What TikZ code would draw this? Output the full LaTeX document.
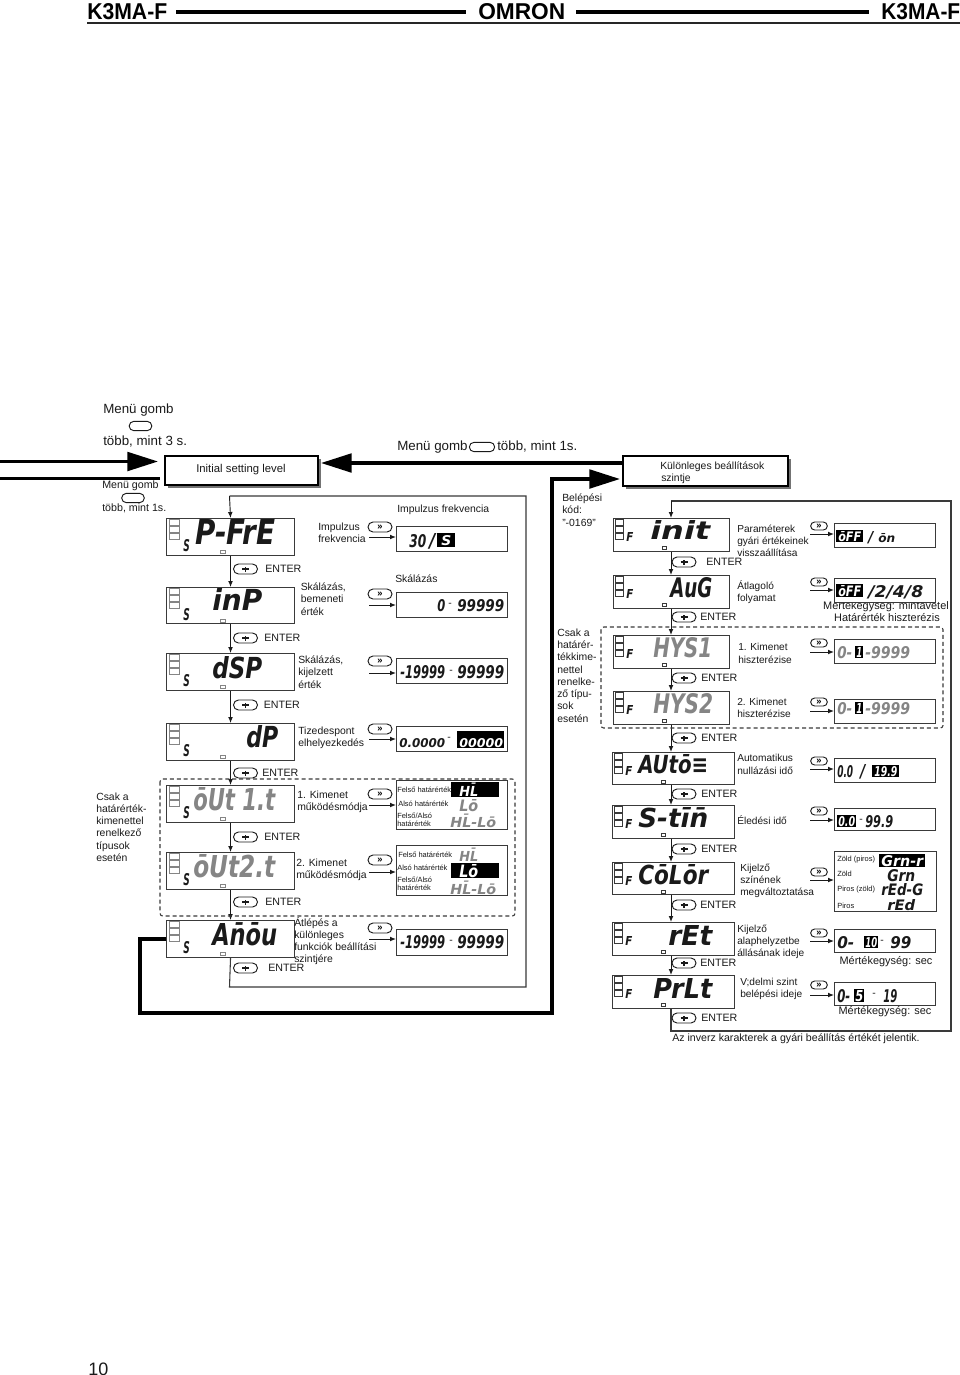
\documentclass[tikz,border=0pt]{standalone}
\usepackage{fontspec}
\usepackage{graphicx}
\setmainfont{Liberation Sans}
\newfontfamily\segf{DejaVu Sans}
\usetikzlibrary{arrows.meta,shapes.misc}
\newlength\pxu \setlength\pxu{0.75pt}
\newcounter{nn}
\definecolor{ink}{HTML}{1A1A1A}
\definecolor{dim}{HTML}{858585}
\definecolor{edge}{HTML}{3A3A3A}
\tikzset{
  lbl/.style={inner sep=0pt,anchor=west,align=left,text=ink,font=\fontsize{7.8}{9.2}\selectfont},
  tiny/.style={lbl,font=\fontsize{5.6}{5.9}\selectfont},
  big/.style={lbl,font=\fontsize{10}{12}\selectfont},
  mid/.style={lbl,font=\fontsize{8}{9.5}\selectfont},
  rgt/.style={lbl,font=\fontsize{7.6}{9.2}\selectfont},
  unit/.style={lbl,font=\fontsize{8.2}{9.5}\selectfont},
  note/.style={lbl,font=\fontsize{7.95}{9.2}\selectfont},
  pageno/.style={lbl,font=\fontsize{13.5}{14}\selectfont},
  arr/.style={draw=ink,line width=.7pt,-{Latex[length=4.5pt,width=3.6pt]}},
  frame/.style={draw=edge,line width=.8pt},
  thickarr/.style={draw=black,line width=2.4pt,-{Triangle[length=23pt,width=14pt]}},
  thickln/.style={draw=black,line width=2.4pt},
  dashbox/.style={draw=edge,line width=.8pt,dash pattern=on 3pt off 2.2pt,rounded corners=2pt},
  level/.style={draw=black,fill=white,line width=1.6pt,inner sep=0pt},
  valbox/.style={draw=edge,line width=.8pt,inner sep=0pt,anchor=north west,fill=white},
  dispbox/.style={draw=edge,line width=.8pt,inner sep=0pt,anchor=north west},
  ovalbtn/.style={rounded rectangle,draw=ink,line width=.7pt,inner sep=0pt,minimum width=18pt,minimum height=7.5pt},
  ffbtn/.style={ovalbtn,font=\bfseries\fontsize{7}{7}\selectfont}
}
% generic fitted text: name, x, y, w, h, colour, content
\newcommand{\fittext}[7]{\node[inner sep=0pt,anchor=north west,text=#6] (#1) at (#2,#3) {\resizebox{#4\pxu}{#5\pxu}{#7}};}
\newcommand{\seg}[6]{\stepcounter{nn}\fittext{s\thenn}{#1}{#2}{#3}{#4}{#5}{\segf\bfseries\itshape #6}}
\newcommand{\inv}[5]{\fill[black] (#1,#2) rectangle ++(#3,#4);}
\newcommand{\lab}[4][lbl]{\stepcounter{nn}\node[#1] (t\thenn) at (#2,#3) {#4};}
\newcommand{\ctr}[4][lbl]{\stepcounter{nn}\node[#1,anchor=center,align=center] (t\thenn) at (#2,#3) {#4};}
% left display: name,x,y,w,h,text x,y,w,h,colour,text
\newcommand{\dispL}[6]{%
  \node[dispbox,minimum width=#4\pxu,minimum height=#5\pxu] (#1) at (#2,#3) {};
  \foreach \k in {1,8,15}{\draw[dim,line width=.6pt] (#2+3.5,#3+\k) rectangle ++(9.5,6.5);}
  \seg{#2+17}{#3+21}{6.5}{12}{ink}{S}
  \draw[dim,line width=.6pt] (#2+54,#3+32) rectangle ++(5,3.5);
}
\newcommand{\dispR}[6]{%
  \node[dispbox,minimum width=#4\pxu,minimum height=#5\pxu] (#1) at (#2,#3) {};
  \foreach \k in {1,8,15}{\draw[edge,line width=.6pt] (#2+2,#3+\k) rectangle ++(8,6);}
  \seg{#2+13}{#3+14}{7}{9}{ink}{F}
  \draw[edge,line width=.6pt] (#2+49,#3+28) rectangle ++(4,3);
}
\newcommand{\entbtn}[4]{% name, x, y, text x
  \node[ovalbtn] (#1) at (#2,#3) {};
  \draw[ink,line width=.9pt] (#2-3.5,#3) -- (#2+3.5,#3) (#2,#3-2) -- (#2,#3+2.5);
  \node[mid] (#1t) at (#4,#3) {ENTER};
}
\begin{document}
\begin{tikzpicture}[x=0.75pt,y=-0.75pt]
\useasboundingbox (0,0) rectangle (960,1375);
\fill[white] (0,0) rectangle (960,1375);
% ---------- header
\fittext{hl}{87}{3}{80}{16}{black}{\bfseries K3MA-F}
\fittext{hr}{881}{3}{79}{16}{black}{\bfseries K3MA-F}
\fittext{logo}{478}{3}{87}{16}{black}{\bfseries OMRON}
\fill[black] (176,10) rectangle (466,14);
\fill[black] (576,10) rectangle (869,14);
\fill[black!85] (87,21.5) rectangle (960,23.5);
% ---------- menu texts, left
\lab[big]{103}{410}{Menü gomb}
\node[ovalbtn,minimum width=17pt,minimum height=7pt] (m1) at (140.5,426) {};
\lab[big]{103}{442}{több, mint 3 s.}
\lab[mid]{102}{486}{Menü gomb}
\node[ovalbtn,minimum width=17pt,minimum height=7pt] (m2) at (133,498) {};
\lab[mid]{102}{508}{több, mint 1s.}
\lab[big]{397}{447}{Menü gomb}
\node[ovalbtn,minimum width=19pt,minimum height=7pt] (m3) at (482,447) {};
\lab[big]{497}{447}{több, mint 1s.}
% ---------- level boxes
\fill[black!55] (168,459) rectangle (321,488);
\node[level,minimum width=153\pxu,minimum height=29\pxu] (init) at (241.5,470.5) {};
\ctr[lbl]{241}{470}{\fontsize{8.5}{10}\selectfont Initial setting level}
\fill[black!55] (626,459) rectangle (791,489);
\node[level,minimum width=165\pxu,minimum height=30\pxu] (spec) at (705.5,471) {};
\lab[lbl]{660}{467}{Különleges beállítások}
\lab[lbl]{661}{479}{szintje}
% ---------- thick connectors
\coordinate (ls1) at (0,461.5);
\coordinate (lt1) at (158,461.5);
\coordinate (ls2) at (0,478.5);
\coordinate (lt2) at (160,478.5);
\coordinate (ts) at (623,463);
\coordinate (tt) at (321,463);
\draw[thickarr] (ls1) -- (lt1);
\draw[thickln] (ls2) -- (lt2);
\draw[thickarr] (ts) -- (tt);
% ---------- left displays
\dispL{pfre}{166}{518}{128}{37}{}
\dispL{inp}{166}{587}{128}{36}{}
\dispL{dsp}{166}{653}{128}{37}{}
\dispL{dp}{166}{723}{128}{37}{}
\dispL{outa}{166}{785}{128}{37}{}
\dispL{outb}{166}{852}{128}{37}{}
\dispL{amov}{166}{920}{128}{37}{}
\seg{195}{519}{80}{25}{ink}{P-FrE}
\seg{212}{588}{50}{22}{ink}{inP}
\seg{212}{656}{50}{22}{ink}{dSP}
\seg{246}{725}{32}{22}{ink}{dP}
\seg{193}{787}{82}{23}{dim}{ōUt 1.t}
\seg{193}{854}{82}{23}{dim}{ōUt2.t}
\seg{212}{922}{65}{23}{ink}{An̄ōu}
% frame left
\coordinate (fa) at (229.5,987);
\coordinate (fb) at (526,987);
\coordinate (fc) at (526,496);
\coordinate (fd) at (229.5,496);
\draw[frame] (amov.south) -- (fa) -- (fb) -- (fc) -- (fd);
\draw[arr] (fd) -- (pfre.north);
\foreach \a/\b in {pfre/inp,inp/dsp,dsp/dp,dp/outa,outa/outb,outb/amov}{\draw[arr] (\a.south) -- (\b.north);}
\draw[dashbox] (160,779) rectangle (515,916);
% thick return line
\coordinate (ra) at (140,1013);
\coordinate (rb) at (552,479);
\coordinate (rc) at (620,479);
\draw[thickln] (amov.west) -| (ra) -| (rb);
\draw[thickarr,line cap=rect] (rb) -- (rc);
% enter
\entbtn{e1}{245.5}{569}{265}
\entbtn{e2}{245.5}{638}{264}
\entbtn{e3}{245.5}{705}{263.5}
\entbtn{e4}{245.5}{773}{262}
\entbtn{e5}{245.5}{837}{264}
\entbtn{e6}{245.5}{902}{265}
\entbtn{e7}{245.5}{968}{268}
% labels left
\lab{318}{533}{Impulzus\\frekvencia}
\lab{300.5}{599}{Skálázás,\\bemeneti\\érték}
\lab{298}{672}{Skálázás,\\kijelzett\\érték}
\lab{298}{738}{Tizedespont\\elhelyezkedés}
\lab{297}{802}{1. Kimenet\\működésmódja}
\lab{296}{870}{2. Kimenet\\működésmódja}
\lab{294}{941}{Átlépés a\\különleges\\funkciók beállítási\\szintjére}
\lab{96}{827}{Csak a\\határérték-\\kimenettel\\renelkező\\típusok\\esetén}
\lab{397}{510}{Impulzus frekvencia}
\lab{395}{579}{Skálázás}
% value boxes left
\node[valbox,minimum width=111\pxu,minimum height=25\pxu] (va) at (396,526) {};
\node[valbox,minimum width=111\pxu,minimum height=25\pxu] (vb) at (396,592) {};
\node[valbox,minimum width=111\pxu,minimum height=25\pxu] (vc) at (396,658) {};
\node[valbox,minimum width=111\pxu,minimum height=25\pxu] (vd) at (396,726) {};
\node[valbox,minimum width=111\pxu,minimum height=49\pxu] (ve) at (396,780) {};
\node[valbox,minimum width=111\pxu,minimum height=50\pxu] (vf) at (396,845) {};
\node[valbox,minimum width=111\pxu,minimum height=26\pxu] (vg) at (396,929) {};
% >> buttons and arrows, left
\foreach \n/\by/\ay/\tg in {a/527/537/va,b/594/605/vb,c/661/673/vc,d/729/739/vd,e/794/805/ve,f/860/872/vf,g/928/939/vg}{
  \node[ffbtn] (ff\n) at (380,\by) {»};
  \coordinate (as\n) at (369,\ay);
  \draw[arr] (as\n) -- (as\n -| \tg.west);
}
% contents, left
\seg{409}{534}{17}{13}{ink}{30}
\seg{429}{533}{6}{14}{ink}{/}
\inv{437}{533}{18}{14}{}
\seg{441}{535}{10}{10}{white}{S}
\seg{437}{599}{8}{12}{ink}{0}
\ctr{450}{605}{-}
\seg{457}{599}{47}{12}{ink}{99999}
\seg{400}{665}{45}{13}{ink}{-19999}
\ctr{451}{672}{-}
\seg{457}{665}{47}{13}{ink}{99999}
\seg{399}{738}{46}{9}{ink}{0.0000}
\ctr{449}{739}{-}
\inv{457}{731}{47}{17}{}
\seg{459}{738}{44}{9}{white}{00000}
\seg{400}{935}{45}{13}{ink}{-19999}
\ctr{451}{942}{-}
\seg{457}{935}{47}{13}{ink}{99999}
% multi-choice boxes
\inv{451}{782}{48}{15}{}
\seg{459}{783}{19}{13}{white}{HL̄}
\lab[tiny]{397}{790}{Felső határérték}
\lab[tiny]{398}{804}{Alsó határérték}
\lab[tiny]{397}{820}{Felső/Alsó\\határérték}
\seg{459}{799}{19}{12}{dim}{Lō}
\seg{450}{814}{46}{13}{dim}{HL̄-Lō}
\lab[tiny]{398}{855}{Felső határérték}
\inv{451}{863}{48}{15}{}
\lab[tiny]{397}{868}{Alsó határérték}
\lab[tiny]{397}{884}{Felső/Alsó\\határérték}
\seg{459}{848}{19}{13}{dim}{HL̄}
\seg{459}{864}{19}{13}{white}{Lō}
\seg{450}{881}{46}{13}{dim}{HL̄-Lō}
% ---------- right column
\lab{562}{510}{Belépési\\kód:\\"-0169"}
\lab{557}{675.5}{Csak a\\határér-\\tékkime-\\nettel\\renelke-\\ző típu-\\sok\\esetén}
\dispR{dinit}{613}{518}{116}{33}{}
\dispR{davg}{613}{575}{116}{33}{}
\dispR{dhya}{613}{635}{116}{33}{}
\dispR{dhyb}{613}{691}{116}{33}{}
\dispR{dauto}{612}{752}{122}{32}{}
\dispR{dstn}{612}{805}{122}{33}{}
\dispR{dcol}{612}{862}{122}{32}{}
\dispR{dret}{612}{922}{122}{33}{}
\dispR{dprl}{612}{975}{122}{33}{}
\seg{650}{520}{60}{19}{ink}{init}
\seg{670}{577}{42}{20}{ink}{AuG}
\seg{653}{637}{59}{20}{dim}{HYS1}
\seg{653}{693}{60}{20}{dim}{HYS2}
\seg{638}{754}{70}{19}{ink}{AUtō≡}
\seg{638}{807}{70}{20}{ink}{S-tīn̄}
\seg{638}{864}{70}{20}{ink}{CōLōr}
\seg{668}{925}{44}{20}{ink}{rEt}
\seg{653}{978}{59}{20}{ink}{PrLt}
% right frame
\coordinate (ga) at (671,1031);
\coordinate (gb) at (951,1031);
\coordinate (gc) at (951,501);
\coordinate (gd) at (671,501);
\draw[frame] (dprl.south -| ga) -- (ga) -- (gb) -- (gc) -- (gd);
\draw[arr] (gd) -- (gd |- dinit.north);
\foreach \a/\b in {dinit/davg,davg/dhya,dhya/dhyb,dhyb/dauto,dauto/dstn,dstn/dcol,dcol/dret,dret/dprl}{\draw[arr] (\a.south -| ga) -- (\b.north -| ga);}
\draw[dashbox] (601,627) rectangle (943,728);
\entbtn{f1}{684}{562}{706}
\entbtn{f2}{684}{617}{700}
\entbtn{f3}{684}{678}{701}
\entbtn{f4}{684}{738}{701}
\entbtn{f5}{684}{794}{701}
\entbtn{f6}{684}{849}{701}
\entbtn{f7}{684}{905}{700}
\entbtn{f8}{684}{963}{700}
\entbtn{f9}{684}{1018}{701}
% labels right
\lab[rgt]{737}{541}{Paraméterek\\gyári értékeinek\\visszaállítása}
\lab[rgt]{737}{592}{Átlagoló\\folyamat}
\lab[rgt]{738}{653.5}{1. Kimenet\\hiszterézise}
\lab[rgt]{737}{708}{2. Kimenet\\hiszterézise}
\lab[rgt]{737}{764.5}{Automatikus\\nullázási idő}
\lab[rgt]{737}{820}{Éledési idő}
\lab[rgt]{740}{881}{Kijelző\\színének\\megváltoztatása}
\lab[rgt]{737}{942}{Kijelző\\alaphelyzetbe\\állásának ideje}
\lab[rgt]{740}{989}{V;delmi szint\\belépési ideje}
\ctr[unit]{886}{607}{Mértékegység: mintavétel}
\ctr[unit]{887}{618}{Határérték hiszterézis}
\ctr[unit]{886}{962}{Mértékegység: sec}
\ctr[unit]{885}{1012}{Mértékegység: sec}
\lab[note]{672}{1039}{Az inverz karakterek a gyári beállítás értékét jelentik.}
\lab[pageno]{88}{1369}{10}
% value boxes right
\node[valbox,minimum width=101\pxu,minimum height=24\pxu] (wa) at (834,523) {};
\node[valbox,minimum width=101\pxu,minimum height=24\pxu] (wb) at (834,578) {};
\node[valbox,minimum width=101\pxu,minimum height=24\pxu] (wc) at (834,639) {};
\node[valbox,minimum width=101\pxu,minimum height=24\pxu] (wd) at (834,699) {};
\node[valbox,minimum width=101\pxu,minimum height=24\pxu] (we) at (834,758) {};
\node[valbox,minimum width=101\pxu,minimum height=22\pxu] (wf) at (834,808) {};
\node[valbox,minimum width=102\pxu,minimum height=60\pxu] (wg) at (834,851) {};
\node[valbox,minimum width=101\pxu,minimum height=23\pxu] (wh) at (834,929) {};
\node[valbox,minimum width=101\pxu,minimum height=23\pxu] (wi) at (834,982) {};
\foreach \n/\by/\ay/\tg in {a/526/534/wa,b/582/590/wb,c/643/652/wc,d/702/711/wd,e/761/769/we,f/811/820/wf,g/872/880/wg,h/933/941/wh,i/985/995/wi}{
  \node[ffbtn,minimum width=12.5pt,minimum height=6pt] (gg\n) at (819,\by) {»};
  \coordinate (bs\n) at (810,\ay);
  \draw[arr] (bs\n) -- (bs\n -| \tg.west);
}
% contents right
\inv{836}{530}{27}{12}{}
\seg{838}{531}{23}{10}{white}{ōFF}
\seg{868}{531}{5}{11}{ink}{/}
\seg{878}{533}{17}{9}{ink}{ōn}
\inv{836}{584}{27}{13}{}
\seg{838}{585}{23}{11}{white}{ōFF}
\seg{868}{585}{55}{12}{ink}{/2/4/8}
\seg{837}{646}{15}{12}{dim}{0-}
\inv{855}{646}{8}{12}{}
\seg{856}{647}{6}{10}{white}{1}
\seg{865}{646}{45}{12}{dim}{-9999}
\seg{837}{702}{15}{12}{dim}{0-}
\inv{855}{702}{8}{12}{}
\seg{856}{703}{6}{10}{white}{1}
\seg{865}{702}{45}{12}{dim}{-9999}
\seg{837}{765}{16}{12}{ink}{0.0}
\seg{860}{764}{5}{13}{ink}{/}
\inv{872}{765}{27}{12}{}
\seg{874}{766}{23}{10}{white}{19.9}
\inv{837}{815}{19}{12}{}
\seg{838}{816}{17}{10}{white}{0.0}
\ctr{861}{821}{-}
\seg{865}{815}{28}{12}{ink}{99.9}
\lab[tiny]{837}{860}{Zöld (piros)}
\lab[tiny]{837}{874}{Zöld}
\lab[tiny]{837}{890}{Piros (zöld)}
\lab[tiny]{837}{906}{Piros}
\inv{879}{854}{46}{13}{}
\seg{881}{855}{42}{11}{white}{Grn-r}
\seg{887}{869}{28}{12}{ink}{Grn}
\seg{881}{883}{42}{12}{ink}{rEd-G}
\seg{887}{899}{28}{11}{ink}{rEd}
\seg{837}{936}{17}{12}{ink}{0-}
\inv{864}{936}{14}{12}{}
\seg{865}{937}{12}{10}{white}{10}
\ctr{882}{942}{-}
\seg{890}{936}{21}{12}{ink}{99}
\seg{837}{989}{13}{13}{ink}{0-}
\inv{854}{989}{10}{13}{}
\seg{855}{990}{8}{11}{white}{5}
\ctr{874}{995}{-}
\seg{883}{989}{14}{13}{ink}{19}
\end{tikzpicture}
\end{document}
